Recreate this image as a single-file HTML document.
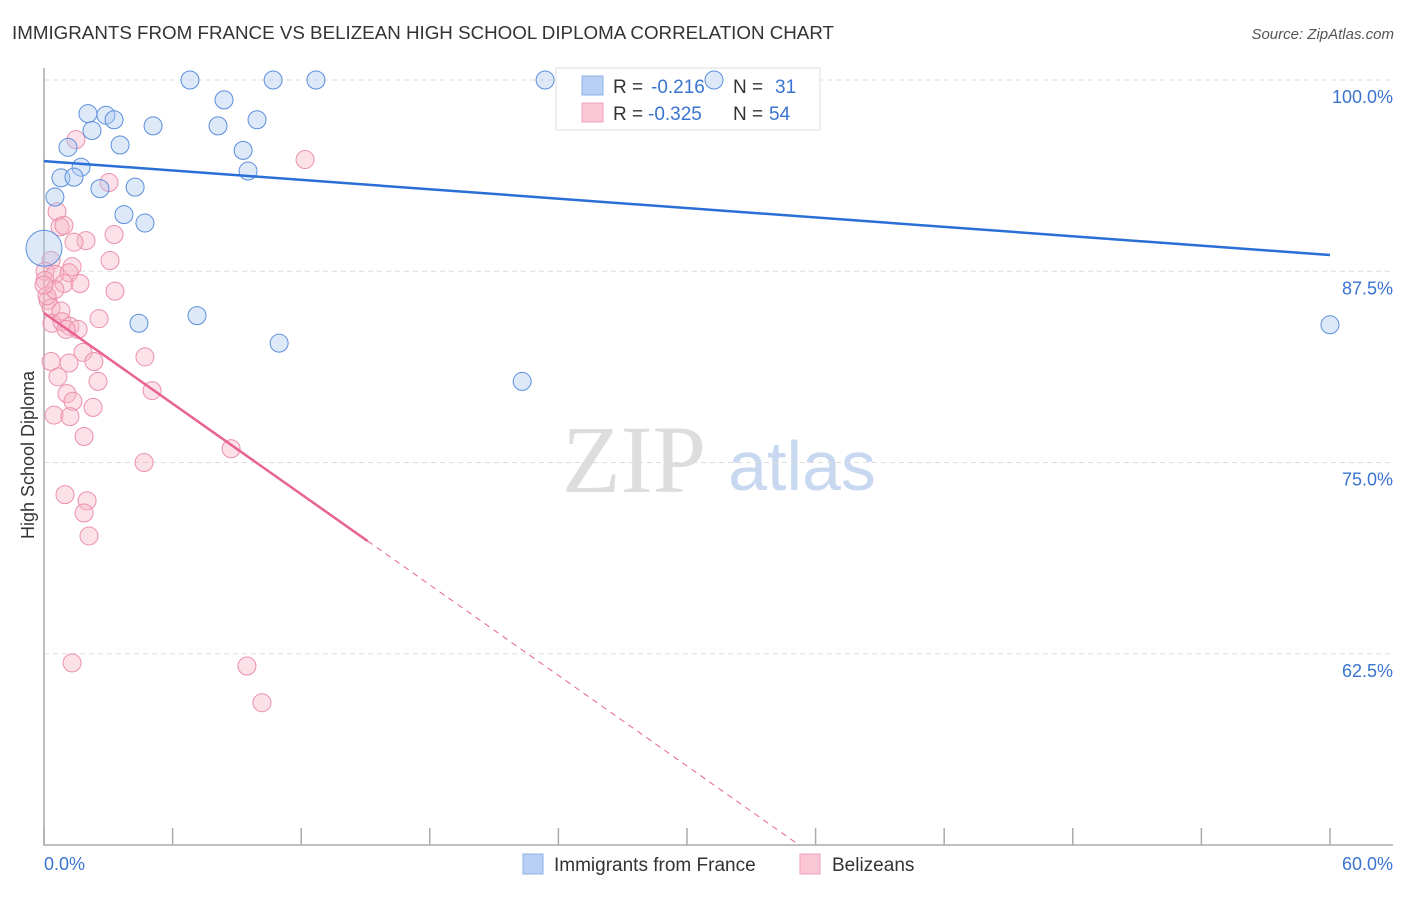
<!DOCTYPE html>
<html><head><meta charset="utf-8"><style>
body{margin:0;background:#fff;font-family:"Liberation Sans",sans-serif;}
</style></head><body>
<svg id="chart" width="1406" height="892" xmlns="http://www.w3.org/2000/svg">
<text x="12" y="39" font-size="18.5" fill="#333" textLength="822" lengthAdjust="spacingAndGlyphs">IMMIGRANTS FROM FRANCE VS BELIZEAN HIGH SCHOOL DIPLOMA CORRELATION CHART</text>
<text x="1394" y="39" font-size="15" fill="#555" text-anchor="end" font-style="italic">Source: ZipAtlas.com</text>
<text x="634" y="492" font-size="96" fill="#ddd" text-anchor="middle" font-family="Liberation Serif,serif">ZIP</text>
<text x="802" y="490" font-size="70" fill="#c8d8f0" text-anchor="middle">atlas</text>
<g id="grid"></g><g id="axes"></g>
<g>
<rect x="556" y="68" width="264" height="62" fill="#fff" stroke="#ddd"/>
<rect x="582" y="76" width="21" height="19" fill="#b8d0f4" stroke="#8ab0e8"/>
<rect x="582" y="103" width="21" height="19" fill="#fbc6d6" stroke="#f0a0b8"/>
<text x="613" y="93" font-size="19" fill="#333">R = </text><text x="651" y="93" font-size="19" fill="#3a74d0">-0.216</text>
<text x="733" y="93" font-size="19" fill="#333">N = </text><text x="775" y="93" font-size="19" fill="#3a74d0">31</text>
<text x="613" y="120" font-size="19" fill="#333">R = </text><text x="648" y="120" font-size="19" fill="#3a74d0">-0.325</text>
<text x="733" y="120" font-size="19" fill="#333">N = </text><text x="769" y="120" font-size="19" fill="#3a74d0">54</text>
</g>
<g id="pts"></g><g id="lines"></g>
<text transform="translate(34,455) rotate(-90)" font-size="18" fill="#333" text-anchor="middle">High School Diploma</text>
<text x="44" y="870" font-size="18" fill="#3a74d0">0.0%</text>
<text x="1393" y="870" font-size="18" fill="#3a74d0" text-anchor="end">60.0%</text>
<g>
<rect x="523" y="854" width="20" height="20" fill="#b8d0f4" stroke="#8ab0e8"/>
<text x="554" y="871" font-size="19" fill="#333">Immigrants from France</text>
<rect x="800" y="854" width="20" height="20" fill="#fbc6d6" stroke="#f0a0b8"/>
<text x="832" y="871" font-size="19" fill="#333">Belizeans</text>
</g>
</svg>
<script>
const yTicks=[100,87.5,75,62.5];
const xTicks=[0,6,12,18,24,30,36,42,48,54,60];
const blueX=[6.81,10.69,12.69,23.38,31.26,8.40,2.05,2.89,3.27,2.24,5.09,8.12,9.94,3.55,1.12,9.29,1.73,0.79,1.40,9.52,2.61,4.25,0.51,3.73,4.71,0,4.43,7.14,10.97,22.31,60];
const blueY=[100,100,100,100,100,98.7,97.8,97.7,97.4,96.7,97.0,97.0,97.4,95.75,95.6,95.4,94.3,93.6,93.65,94.05,92.9,93.0,92.35,91.2,90.65,89.0,84.1,84.6,82.8,80.3,84.0];
const pinkX=[1.49,12.18,3.03,0.61,0.75,0.93,1.96,1.40,3.27,0.33,3.08,1.31,0.05,0.51,1.17,0.05,0.93,1.68,3.31,0.19,0.33,0.79,2.57,0.37,0.84,1.21,1.59,1.82,4.71,0.33,1.17,2.33,2.52,0.65,5.04,1.07,1.35,2.29,0.47,1.21,1.87,8.73,4.67,0.98,2.01,1.87,2.10,1.31,9.47,10.17,0.14,0.51,0,1.03];
const pinkY=[96.1,94.8,93.3,91.4,90.4,90.5,89.5,89.4,89.9,88.2,88.2,87.8,87.5,87.3,87.4,86.9,86.7,86.7,86.2,85.6,85.1,84.9,84.4,84.1,84.2,83.9,83.7,82.2,81.9,81.6,81.5,81.6,80.3,80.6,79.7,79.5,79.0,78.6,78.1,78.0,76.7,75.9,75.0,72.9,72.5,71.7,70.2,61.9,61.7,59.3,85.9,86.3,86.6,83.7];
const blueLine=[94.7,88.56];
const pinkLine=[84.77,-0.987];
const X=v=>44+v*21.433, Y=v=>80+(100-v)*15.3;
const ns='http://www.w3.org/2000/svg';
function mk(p,t,a){const e=document.createElementNS(ns,t);for(const k in a)e.setAttribute(k,a[k]);document.getElementById(p).appendChild(e);return e;}
yTicks.forEach(t=>{
 const l=mk('grid','line',{x1:44,x2:1393,y1:Y(t),y2:Y(t),stroke:'#ddd','stroke-dasharray':'5,4'});
 
 
 const tx=mk('grid','text',{x:1393,y:Y(t)+23,'font-size':18,fill:'#3a74d0','text-anchor':'end'});
 tx.textContent=t.toFixed(1)+'%';
 
 
});
const ax=mk('axes','path',{d:'M44,68V845H1393',fill:'none',stroke:'#aaa','stroke-width':1.5});


xTicks.forEach(t=>{
 const l=mk('axes','line',{x1:X(t),x2:X(t),y1:828,y2:845,stroke:'#aaa','stroke-width':1.5});
 
 
});
pinkX.forEach((x,i)=>{
 const c=mk('pts','circle',{cx:X(x),cy:Y(pinkY[i]),r:9,fill:'rgba(248,180,200,0.4)',stroke:'#ec8fab','stroke-width':1});
 
 
});
blueX.forEach((x,i)=>{
 const c=mk('pts','circle',{cx:X(x),cy:Y(blueY[i]),r:i==25?18:9,fill:'rgba(170,200,240,0.4)',stroke:'#5b8fdc','stroke-width':1});
 
 
});
const bl=mk('lines','line',{x1:X(0),y1:Y(blueLine[0]),x2:X(60),y2:Y(blueLine[1]),stroke:'#2a6fd6','stroke-width':2.5});


const pe=15.1, pz=(pinkLine[0]-50)/-pinkLine[1];
const pl=mk('lines','line',{x1:X(0),y1:Y(pinkLine[0]),x2:X(pe),y2:Y(pinkLine[0]+pinkLine[1]*pe),stroke:'#e8638f','stroke-width':2.5});


const pd=mk('lines','line',{x1:X(pe),y1:Y(pinkLine[0]+pinkLine[1]*pe),x2:X(pz),y2:Y(50),stroke:'#e8638f','stroke-width':1,'stroke-dasharray':'6,5'});


</script>
</body></html>
